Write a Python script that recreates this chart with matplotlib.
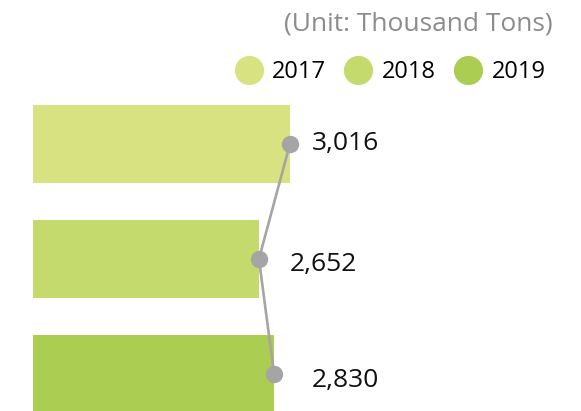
import matplotlib.pyplot as plt
from matplotlib.lines import Line2D

plt.rcParams['font.family'] = ['Open Sans', 'DejaVu Sans']

years = ['2017', '2018', '2019']
values = [3016, 2652, 2830]
labels = ['3,016', '2,652', '2,830']
colors = ['#d9e281', '#c5da6d', '#abcd52']
label_dx = [16, 22, 27]   # label offsets in points
label_dy = [0, -4, -5]

fig = plt.figure(figsize=(5.81, 4.11), dpi=100)
ax = fig.add_axes([0, 0, 1, 1])

pos = list(range(len(values)))
ax.barh(pos, values, height=0.68, color=colors)
ax.plot(values, pos, color='#a5a5a5', lw=1.9, marker='o', ms=11.5, zorder=3)
for v, p, s, dx, dy in zip(values, pos, labels, label_dx, label_dy):
    ax.annotate(s, (v, p), xytext=(dx, dy), textcoords='offset points',
                ha='left', va='center', fontsize=19, color='#111111')

ax.set_xlim(-387, 6432)
ax.set_ylim(2.322, -1.252)
ax.axis('off')

fig.text(0.951, 0.942, '(Unit: Thousand Tons)', ha='right', va='center',
         fontsize=19, color='#8c8c8c')

handles = [Line2D([], [], ls='none', marker='o', ms=20, color=c) for c in colors]
ax.legend(handles, years, ncol=3, frameon=False, loc='center right',
          bbox_to_anchor=(0.955, 0.825), fontsize=17, handlelength=1.0,
          handletextpad=0.5, columnspacing=0.85, borderaxespad=0)

fig.savefig('out.png', dpi=100)
